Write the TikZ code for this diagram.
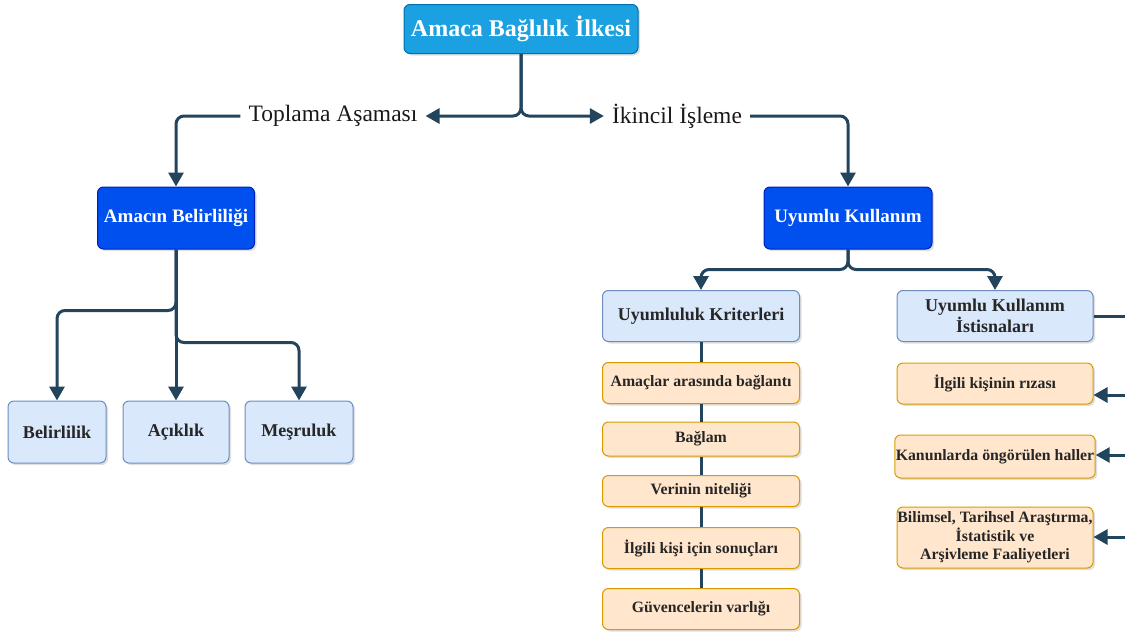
\documentclass[tikz,border=0pt]{standalone}
\usepackage{fontspec}
\setmainfont{Liberation Serif}
\usepackage{xcolor}
\usepackage{tikz}
\usetikzlibrary{arrows.meta,positioning,shadows,calc}

\definecolor{topfill}{HTML}{1BA1E2}
\definecolor{topline}{HTML}{006EAF}
\definecolor{darkfill}{HTML}{0050EF}
\definecolor{darkline}{HTML}{001DBC}
\definecolor{lightfill}{HTML}{DAE8FC}
\definecolor{lightline}{HTML}{6C8EBF}
\definecolor{orangefill}{HTML}{FFE6CC}
\definecolor{orangeline}{HTML}{D79B00}
\definecolor{edgecol}{HTML}{23445D}

\tikzset{
	box/.style={rectangle,rounded corners=6pt,line width=1pt,align=center,inner sep=1pt,
		drop shadow={opacity=0.25,shadow xshift=2pt,shadow yshift=-2pt}},
	mainbox/.style={box,fill=topfill,draw=topline,text=white,font=\bfseries\fontsize{24}{28}\selectfont},
	darkbox/.style={box,fill=darkfill,draw=darkline,text=white,font=\bfseries\fontsize{19}{22}\selectfont},
	lightbox/.style={box,fill=lightfill,draw=lightline,text=black!85,font=\bfseries\fontsize{18}{21}\selectfont},
	orangebox/.style={box,fill=orangefill,draw=orangeline,text=black!85,font=\bfseries\fontsize{15.8}{18.5}\selectfont,minimum width=197pt},
	phase/.style={inner sep=8pt,text=black!90,font=\fontsize{23.5}{27}\selectfont},
	conn/.style={line width=3pt,draw=edgecol,rounded corners=8pt,-{Triangle[length=14pt,width=15pt]}},
	chainline/.style={line width=3pt,draw=edgecol}
}

\begin{document}
\begin{tikzpicture}[x=1pt,y=1pt]
		\useasboundingbox (0,0) rectangle (1125,-637);
		% top
		\node[mainbox,minimum width=234pt,minimum height=49pt] (top) at (521,-29) {Amaca Bağlılık İlkesi};
		\node[phase] (toplama) at (333,-116) {Toplama Aşaması};
		\node[phase] (ikincil) at (677,-116) {İkincil İşleme};
		% second level
		\node[darkbox,minimum width=157pt,minimum height=62pt] (amacin) at (176,-218) {Amacın Belirliliği};
		\node[darkbox,minimum width=168pt,minimum height=62pt] (uyumlu) at (848,-218) {Uyumlu Kullanım};
		% left leaves
		\node[lightbox,minimum width=98pt,minimum height=62pt] (belirlilik) at (57,-432) {Belirlilik};
		\node[lightbox,minimum width=106pt,minimum height=62pt] (aciklik) at (176,-432) {Açıklık};
		\node[lightbox,minimum width=108pt,minimum height=62pt] (mesruluk) at (299,-432) {Meşruluk};
		% right side
		\node[lightbox,minimum width=197pt,minimum height=51pt] (kriter) at (701,-316) {Uyumluluk Kriterleri};
		\node[lightbox,minimum width=196pt,minimum height=51pt] (istisna) at (995,-316) {Uyumlu Kullanım\\İstisnaları};
		\node[orangebox,minimum height=41pt] (k1) at (701,-383) {Amaçlar arasında bağlantı};
		\node[orangebox,minimum height=34pt] (k2) at (701,-439) {Bağlam};
		\node[orangebox,minimum height=31pt] (k3) at (701,-491) {Verinin niteliği};
		\node[orangebox,minimum height=41pt] (k4) at (701,-548) {İlgili kişi için sonuçları};
		\node[orangebox,minimum height=41pt] (k5) at (701,-609) {Güvencelerin varlığı};
		\node[orangebox,minimum width=196pt,minimum height=41pt] (r1) at (995,-383.5) {İlgili kişinin rızası};
		\node[orangebox,minimum width=196pt,minimum height=43pt] (r2) at (995,-456.5) {Kanunlarda öngörülen haller};
		\node[orangebox,minimum width=196pt,minimum height=61pt,inner sep=0pt] (r3) at (995,-537.5) {Bilimsel, Tarihsel Araştırma,\\İstatistik ve\\Arşivleme Faaliyetleri};
		% free ends at the cut edge
		\coordinate (outA) at (1125,-316);
		\coordinate (inA) at (1125,-395);
		\coordinate (inB) at (1125,-455);
		\coordinate (inC) at (1125,-537);
		% connectors
		\draw[conn] (top.south) |- (toplama.east);
		\draw[conn] (top.south) |- (ikincil.west);
		\draw[conn] (toplama.west) -| (amacin.north);
		\draw[conn] (ikincil.east) -| (uyumlu.north);
		\draw[conn] (amacin.south) -- ++(0,-61) -| (belirlilik.north);
		\draw[conn] (amacin.south) -- (aciklik.north);
		\draw[conn] (amacin.south) -- ++(0,-93) -| (mesruluk.north);
		\draw[conn] (uyumlu.south) -- ++(0,-20) -| (kriter.north);
		\draw[conn] (uyumlu.south) -- ++(0,-20) -| (istisna.north);
		\draw[chainline] (kriter.south) -- (k1.north) (k1.south) -- (k2.north) (k2.south) -- (k3.north) (k3.south) -- (k4.north) (k4.south) -- (k5.north);
		\draw[chainline] (istisna.east) -- (outA);
		\draw[conn] (inA) -- (r1.east |- inA);
		\draw[conn] (inB) -- (r2.east |- inB);
		\draw[conn] (inC) -- (r3.east |- inC);
	\end{tikzpicture}
\end{document}
